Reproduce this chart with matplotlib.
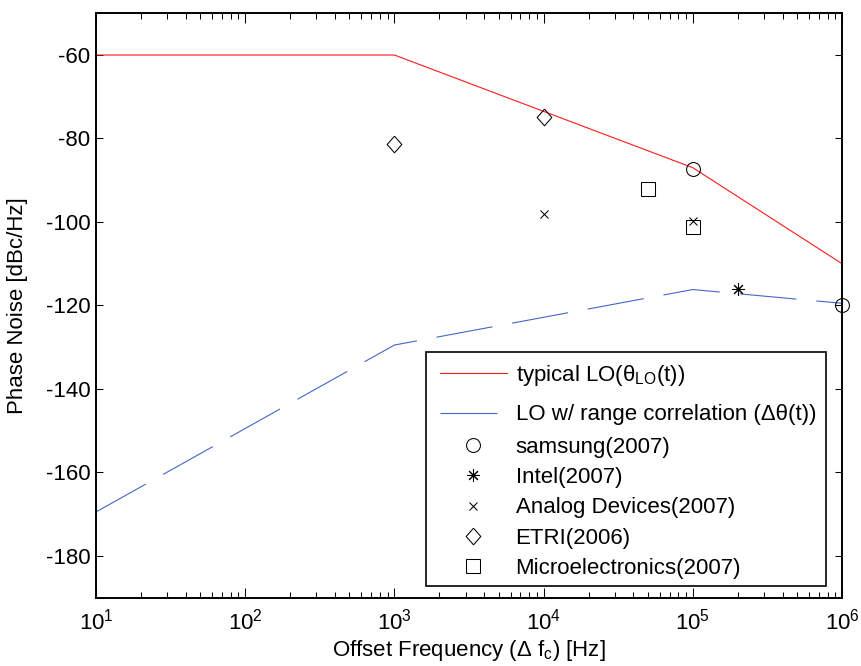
import matplotlib
matplotlib.use("Agg")
import matplotlib.pyplot as plt
from matplotlib.ticker import LogLocator, FixedLocator
from matplotlib.patches import Rectangle

plt.rcParams['font.family'] = ['Liberation Sans', 'DejaVu Sans']
plt.rcParams['mathtext.fontset'] = 'custom'
plt.rcParams['mathtext.rm'] = 'Liberation Sans'
plt.rcParams['mathtext.it'] = 'Liberation Sans:italic'
plt.rcParams['mathtext.bf'] = 'Liberation Sans:bold'
plt.rcParams['axes.unicode_minus'] = False

# ---- data ----
lo_freq = [10, 1e3, 1e5, 1e6]
lo_typical = [-60, -60, -87, -110]
lo_corr = [-169.5, -129.5, -116.2, -119.5]

samsung_f = [1e5, 1e6]
samsung_pn = [-87.2, -120.0]
intel_f = [2e5]
intel_pn = [-116.0]
adi_f = [1e4, 1e5]
adi_pn = [-98.0, -99.8]
etri_f = [1e3, 1e4]
etri_pn = [-81.4, -74.8]
micro_f = [5e4, 1e5]
micro_pn = [-92.0, -101.1]

y_ticks = [-180, -160, -140, -120, -100, -80, -60]

labels = [r'typical LO(θ$_{\mathrm{LO}}$(t))',
          'LO w/ range correlation (Δθ(t))',
          'samsung(2007)', 'Intel(2007)', 'Analog Devices(2007)',
          'ETRI(2006)', 'Microelectronics(2007)']

FS = 16
W, H = 862, 666
fig = plt.figure(figsize=(W/100, H/100), dpi=100)
AX_L, AX_R, AX_T, AX_B = 96, 842, 13.3, 597.5
ax = fig.add_axes([AX_L/W, 1-AX_B/H, (AX_R-AX_L)/W, (AX_B-AX_T)/H])

def axfrac(px, py):
    return ((px-AX_L)/(AX_R-AX_L), (AX_B-py)/(AX_B-AX_T))

diamond = [(0, 1), (0.88, 0), (0, -1), (-0.88, 0), (0, 1)]

lw = 0.8
h1, = ax.plot(lo_freq, lo_typical, color='#ff1a1a', lw=lw)
h2, = ax.plot(lo_freq, lo_corr, color='#4466c8', lw=lw,
              dashes=(41/lw, 14.4/lw))
mk = dict(linestyle='none', color='black', mfc='none', mec='black', mew=0.75, clip_on=False)
h3, = ax.plot(samsung_f, samsung_pn, marker='o', ms=10, **mk)
h4, = ax.plot(intel_f, intel_pn, marker=(8, 2, 0), ms=9, **mk)
h5, = ax.plot(adi_f, adi_pn, marker='x', ms=5.5, **mk)
h6, = ax.plot(etri_f, etri_pn, marker=diamond, ms=12, **mk)
h7, = ax.plot(micro_f, micro_pn, marker='s', ms=10.5, **mk)

ax.set_xscale('log')
ax.set_xlim(10, 1e6)
ax.set_ylim(-190, -50)
ax.yaxis.set_major_locator(FixedLocator(y_ticks))
ax.xaxis.set_major_locator(LogLocator(base=10, numticks=10))
ax.xaxis.set_minor_locator(LogLocator(base=10, subs=range(2, 10), numticks=20))

for s in ax.spines.values():
    s.set_linewidth(1.4)
ax.tick_params(which='both', direction='in', top=True, right=True, width=0.75, labelsize=FS)
ax.tick_params(axis='x', which='major', length=7, pad=8)
ax.tick_params(axis='x', which='minor', length=4.3)
ax.tick_params(axis='y', which='major', length=5, pad=4)

ax.set_ylabel('Phase Noise [dBc/Hz]', fontsize=FS)
ax.yaxis.set_label_coords(-0.091, 0.5)
fig.text(((AX_L+AX_R)/2)/W, 1-656/H, r'Offset Frequency (Δ f$_{\mathrm{c}}$) [Hz]',
         fontsize=FS, ha='center', va='baseline')

# legend: frame + two parts (line entries, marker entries)
bx0, by0, bx1, by1 = 426, 352, 826, 586
fx0, fy1 = axfrac(bx0, by0)
fx1, fy0 = axfrac(bx1, by1)
ax.add_patch(Rectangle((fx0, fy0), fx1-fx0, fy1-fy0, transform=ax.transAxes,
                       facecolor='white', edgecolor='black', lw=1.2, zorder=4.5))
common = dict(fontsize=FS, frameon=False, handlelength=3.0, handletextpad=0.4,
              borderaxespad=0, borderpad=0)
legA = ax.legend([h1, h2], labels[:2], loc='center left',
                 bbox_to_anchor=axfrac(440, 394), labelspacing=0.75, **common)
ax.add_artist(legA)
legB = ax.legend([h3, h4, h5, h6, h7], labels[2:], loc='center left',
                 bbox_to_anchor=axfrac(440, 508), labelspacing=0.42, **common)

fig.savefig('out.png', dpi=100)
